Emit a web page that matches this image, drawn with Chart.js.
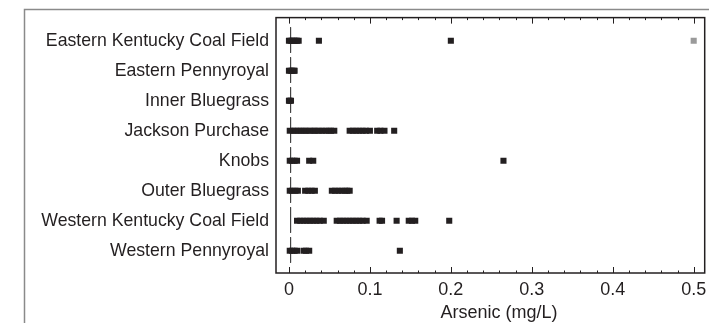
<!DOCTYPE html>
<html>
<head>
  <title>Arsenic by region</title>
  <script src="https://cdn.jsdelivr.net/npm/chart.js"></script>
  <style>
    body { margin: 0; background: #fff; }
    canvas { display: block; }
  </style>
</head>
<body>
  <canvas id="chart" width="709" height="323"></canvas>

  <script>
    const regions = [
      'Eastern Kentucky Coal Field',
      'Eastern Pennyroyal',
      'Inner Bluegrass',
      'Jackson Purchase',
      'Knobs',
      'Outer Bluegrass',
      'Western Kentucky Coal Field',
      'Western Pennyroyal'
    ];

    // arsenic results (mg/L), one list per region
    const easternKyCoal = [0, 0.002, 0.004, 0.006, 0.008, 0.01, 0.012, 0.037, 0.2];
    const easternKyCoalGrey = [0.5];
    const easternPennyroyal = [0, 0.002, 0.004, 0.006, 0.007];
    const innerBluegrass = [0, 0.001, 0.0025];
    const jacksonPurchase = [0.001, 0.005, 0.008, 0.012, 0.015, 0.019, 0.022, 0.026, 0.03, 0.033,
      0.037, 0.041, 0.045, 0.049, 0.052, 0.056, 0.075, 0.079, 0.083, 0.087, 0.091, 0.095, 0.1,
      0.109, 0.113, 0.118, 0.13];
    const knobs = [0.001, 0.004, 0.007, 0.01, 0.025, 0.03, 0.265];
    const outerBluegrass = [0.001, 0.004, 0.008, 0.011, 0.02, 0.024, 0.028, 0.032,
      0.053, 0.057, 0.061, 0.065, 0.069, 0.072, 0.075];
    const westernKyCoal = [0.01, 0.014, 0.018, 0.022, 0.026, 0.03, 0.034, 0.038, 0.043,
      0.059, 0.063, 0.067, 0.071, 0.075, 0.079, 0.083, 0.087, 0.091, 0.096,
      0.112, 0.115, 0.133, 0.148, 0.152, 0.156, 0.198];
    const westernPennyroyal = [0.001, 0.004, 0.007, 0.01, 0.018, 0.021, 0.025, 0.137];

    const regionValues = [easternKyCoal, easternPennyroyal, innerBluegrass, jacksonPurchase,
      knobs, outerBluegrass, westernKyCoal, westernPennyroyal];

    const refLine = 0.002;
    const xTicks = [0, 0.1, 0.2, 0.3, 0.4, 0.5];
    const xMinorTicks = [0.02, 0.04, 0.06, 0.08, 0.12, 0.14, 0.16, 0.18, 0.22, 0.24, 0.26, 0.28,
      0.32, 0.34, 0.36, 0.38, 0.42, 0.44, 0.46, 0.48];
    const xTitle = 'Arsenic (mg/L)';

    const ink = '#231f20';
    const fontFamily = '"Liberation Sans", Arial, sans-serif';

    const points = [];
    regionValues.forEach((vals, i) => vals.forEach(v => points.push({ x: v, y: i })));
    const greyPoints = easternKyCoalGrey.map(v => ({ x: v, y: 0 }));

    const refSegments = regions.map((r, i) => ({
      type: 'line',
      data: [{ x: refLine, y: i - 0.45 }, { x: refLine, y: i + 0.4 }],
      borderColor: '#444',
      borderWidth: 1,
      pointRadius: 0,
      showLine: true
    }));

    // frame, inward ticks and axis title
    const decor = {
      id: 'decor',
      beforeDraw(chart) {
        const ctx = chart.ctx;
        ctx.save();
        ctx.strokeStyle = '#8a8a8a';
        ctx.lineWidth = 1.5;
        ctx.beginPath();
        ctx.moveTo(24.5, 323);
        ctx.lineTo(24.5, 9.5);
        ctx.lineTo(709, 9.5);
        ctx.stroke();
        ctx.restore();
      },
      afterDraw(chart) {
        const ctx = chart.ctx;
        const a = chart.chartArea;
        const xs = chart.scales.x;
        ctx.save();
        ctx.strokeStyle = ink;
        ctx.lineWidth = 1.5;
        ctx.strokeRect(a.left, a.top, a.right - a.left, a.bottom - a.top);
        ctx.lineWidth = 1;
        const tick = (v, len) => {
          const px = Math.round(xs.getPixelForValue(v)) + 0.5;
          ctx.beginPath();
          ctx.moveTo(px, a.bottom);
          ctx.lineTo(px, a.bottom - len);
          ctx.moveTo(px, a.top);
          ctx.lineTo(px, a.top + len);
          ctx.stroke();
        };
        xTicks.forEach(v => tick(v, 6));
        xMinorTicks.forEach(v => tick(v, 2.5));
        ctx.fillStyle = ink;
        ctx.font = '18px ' + fontFamily;
        ctx.textAlign = 'center';
        ctx.textBaseline = 'alphabetic';
        ctx.fillText(xTitle, 499, 318);
        ctx.restore();
      }
    };

    new Chart(document.getElementById('chart'), {
      type: 'scatter',
      data: {
        datasets: [
          {
            data: points,
            backgroundColor: ink,
            pointStyle: 'rect',
            pointRadius: 4.3,
            pointBorderWidth: 0,
            borderWidth: 0
          },
          {
            data: greyPoints,
            backgroundColor: '#9a9a9a',
            pointStyle: 'rect',
            pointRadius: 4.3,
            pointBorderWidth: 0,
            borderWidth: 0
          },
          ...refSegments
        ]
      },
      options: {
        responsive: false,
        animation: false,
        devicePixelRatio: 1,
        layout: { padding: { left: 0, top: 17.5, right: 3, bottom: 0 } },
        plugins: { legend: { display: false }, tooltip: { enabled: false } },
        scales: {
          x: {
            type: 'linear',
            min: -0.016,
            max: 0.5136,
            border: { display: false },
            grid: { display: false, drawTicks: false },
            afterBuildTicks: s => { s.ticks = xTicks.map(v => ({ value: v })); },
            afterFit: s => { s.height = 50; s.paddingRight = 0; s.paddingLeft = 0; },
            ticks: {
              padding: 6,
              autoSkip: false,
              maxRotation: 0,
              color: ink,
              font: { family: fontFamily, size: 18 },
              callback: v => String(v)
            }
          },
          y: {
            type: 'linear',
            reverse: true,
            min: -0.773,
            max: 7.743,
            border: { display: false },
            grid: { display: false, drawTicks: false },
            afterBuildTicks: s => { s.ticks = regions.map((r, i) => ({ value: i })); },
            afterFit: s => { s.width = 276; },
            ticks: {
              padding: 7,
              autoSkip: false,
              color: ink,
              font: { family: fontFamily, size: 17.7 },
              callback: v => regions[v]
            }
          }
        }
      },
      plugins: [decor]
    });
  </script>
</body>
</html>
